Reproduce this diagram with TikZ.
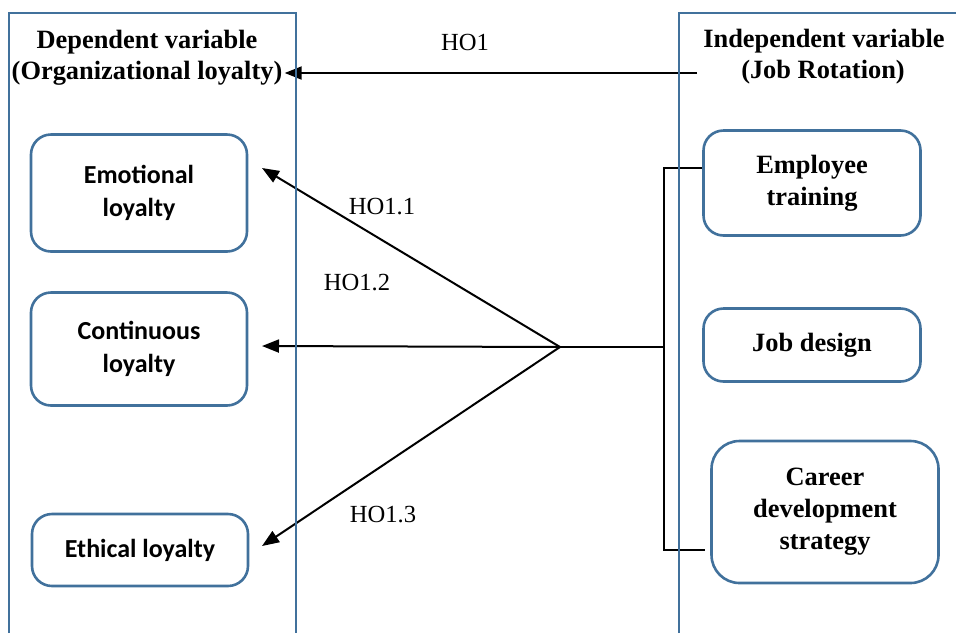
\documentclass[tikz,border=0pt]{standalone}
\usepackage{fontspec}
\setmainfont{Liberation Serif}
\newfontfamily\calibrifont{Carlito}
\usetikzlibrary{arrows.meta,positioning}
\definecolor{frameblue}{RGB}{65,113,156}

\tikzset{
  panel/.style={draw=frameblue,line width=1pt},
  dimbox/.style={draw=frameblue,line width=1.3pt,rounded corners=10pt,align=center,
    font=\calibrifont\bfseries\fontsize{13}{16.5}\selectfont},
  varbox/.style={draw=frameblue,line width=1.3pt,rounded corners=10pt,align=center,
    font=\bfseries\fontsize{13.2}{16}\selectfont},
  head/.style={font=\bfseries\fontsize{13.2}{15}\selectfont,inner sep=1pt},
  hyp/.style={font=\fontsize{12.3}{14}\selectfont,inner sep=1pt},
  link/.style={line width=1pt,-{Triangle[length=8.5pt,width=6.5pt]}},
  wire/.style={line width=1pt}
}

\begin{document}
\begin{tikzpicture}[x=0.5pt,y=-0.5pt]
\useasboundingbox (0,0) rectangle (956,633);

% headers
\node (deptitle) at (147,42)[head] {Dependent variable};
\node (deporg) at (147,73)[head] {(Organizational loyalty)};
\node (indtitle) at (824,41)[head] {Independent variable};
\node (indrot) at (823,72)[head] {(Job Rotation)};

% dimensions of loyalty
\node (emotional) at (139,193)[dimbox,minimum width=108pt,minimum height=58.5pt] {Emotional\\loyalty};
\node (continuous) at (139,349)[dimbox,minimum width=108pt,minimum height=56.5pt] {Continuous\\loyalty};
\node (ethical) at (140,550)[dimbox,minimum width=108pt,minimum height=36pt] {Ethical loyalty};

% dimensions of job rotation
\node (training) at (812,183)[varbox,minimum width=108.5pt,minimum height=52.5pt] {Employee\\training};
\node (jobdesign) at (812,345)[varbox,minimum width=108.5pt,minimum height=36.5pt] {Job design};
\node (career) at (825,512)[varbox,minimum width=113.5pt,minimum height=71pt,rounded corners=14pt] {Career\\development\\strategy};

% hypothesis labels
\node (ho) at (465,42)[hyp] {HO1};
\node (hoa) at (382,207)[hyp] {HO1.1};
\node (hob) at (357,283)[hyp] {HO1.2};
\node (hoc) at (383,515)[hyp] {HO1.3};

% connectors
\coordinate (hostart) at (697,73);
\coordinate (hub) at (560,347);
\coordinate (brtop) at (664,168);
\coordinate (brmid) at (664,347);
\coordinate (brbot) at (664,550);
\coordinate (tipa) at (262,168);
\coordinate (tipb) at (262,346);
\coordinate (tipc) at (262,546);

\draw [link] (hostart) -- (deporg.east);
\draw [wire] (training.west |- brtop) -- (brtop) -- (brbot) -- (705,550);
\draw [wire] (brmid) -- (hub);
\draw [link] (hub) -- (tipa);
\draw [link] (hub) -- (tipb);
\draw [link] (hub) -- (tipc);

% panels
\draw [panel] (9,633) -- (9,13) -- (296,13) -- (296,633);
\draw [panel] (679,633) -- (679,13) -- (956,13);
\end{tikzpicture}
\end{document}
